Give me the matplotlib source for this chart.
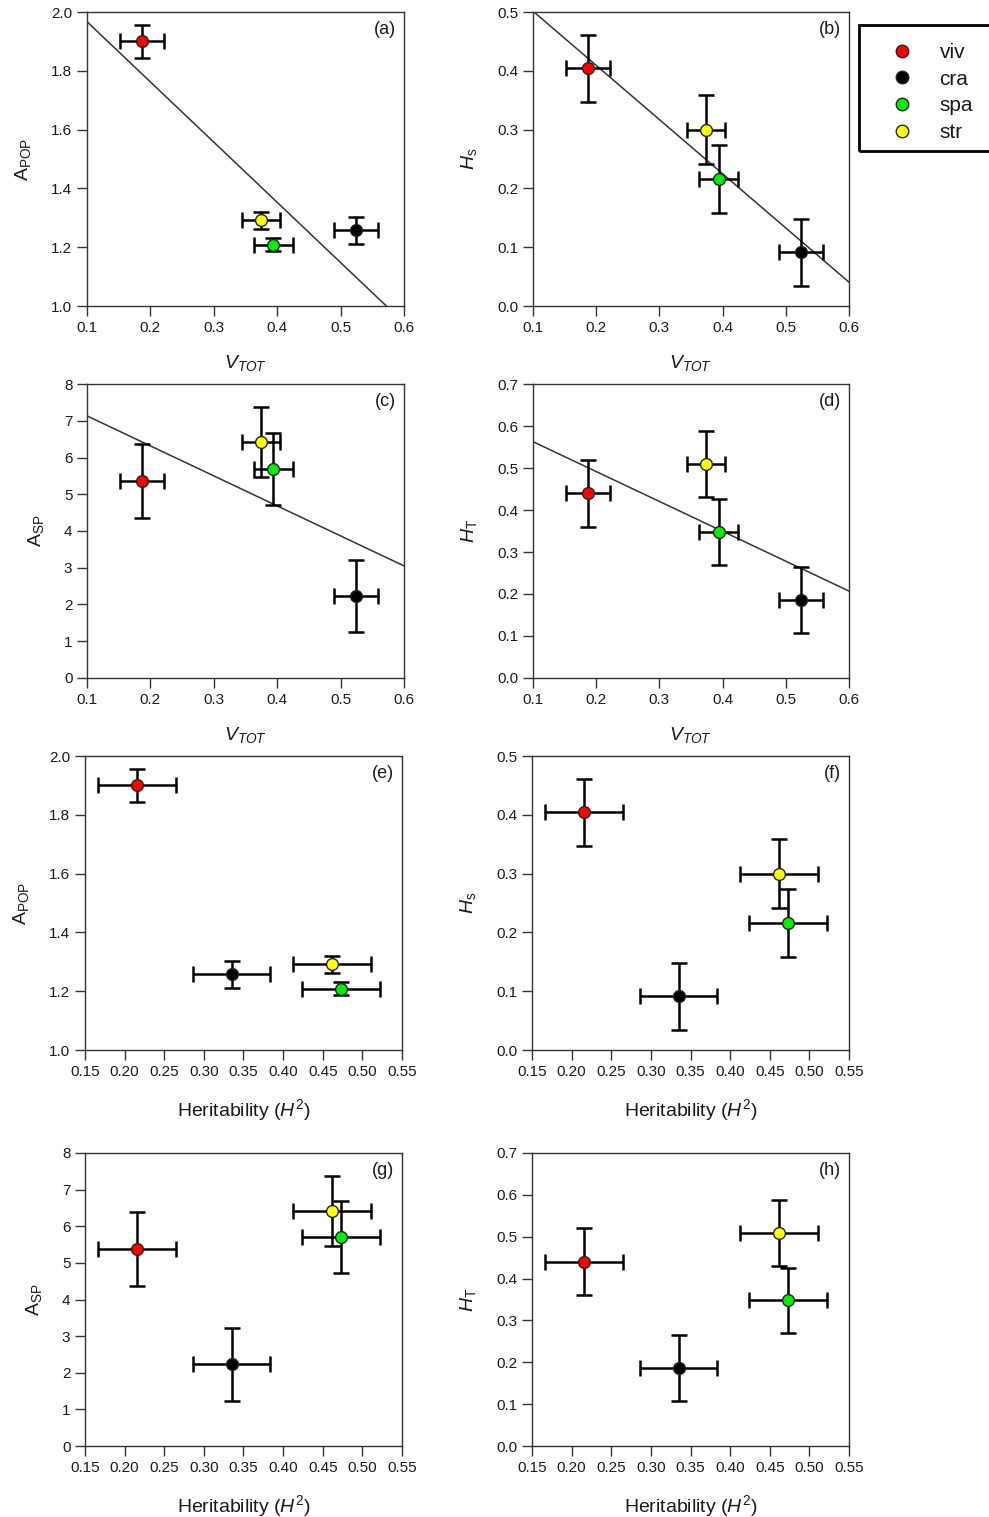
import numpy as np
import matplotlib
matplotlib.use("Agg")
import matplotlib.pyplot as plt
from matplotlib.lines import Line2D
from matplotlib.patches import Rectangle

plt.rcParams["font.family"] = ["Liberation Sans", "DejaVu Sans"]
plt.rcParams["mathtext.fontset"] = "custom"
plt.rcParams["mathtext.rm"] = "Liberation Sans"
plt.rcParams["mathtext.it"] = "Liberation Sans:italic"
plt.rcParams["mathtext.bf"] = "Liberation Sans:bold"

# species and colours
species = ["viv", "cra", "spa", "str"]
colors = ["#ff0000", "#000000", "#00ee00", "#ffff00"]

# x variables
v_tot = [0.187, 0.524, 0.394, 0.374]
v_tot_err = [0.035, 0.035, 0.031, 0.030]
herit = [0.216, 0.335, 0.473, 0.462]
herit_err = [0.049, 0.049, 0.049, 0.049]

# y variables
a_pop = [1.900, 1.258, 1.209, 1.291]
a_pop_err = [0.055, 0.046, 0.022, 0.029]
h_s = [0.404, 0.091, 0.216, 0.300]
h_s_err = [0.057, 0.057, 0.057, 0.058]
a_sp = [5.37, 2.23, 5.70, 6.42]
a_sp_err = [1.01, 0.99, 0.98, 0.96]
h_t = [0.440, 0.186, 0.348, 0.509]
h_t_err = [0.080, 0.079, 0.078, 0.079]

W, H = 989, 1517
fig = plt.figure(figsize=(W / 100, H / 100), dpi=100)

TXT = "#1a1a1a"


def make_ax(x0, x1, ytop, ybot):
    return fig.add_axes([x0 / W, 1 - ybot / H, (x1 - x0) / W, (ybot - ytop) / H])


def panel(ax, x, xerr, y, yerr, xlim, xticks, xfmt, ylim, yticks, yfmt,
          xlabel, ylabel, tag, fit=False):
    for i in range(len(species)):
        ax.errorbar(x[i], y[i], xerr=xerr[i], yerr=yerr[i], fmt="none",
                    ecolor="black", elinewidth=1.8, capsize=5.8, capthick=1.8,
                    zorder=3)
    for i in range(len(species)):
        ax.plot(x[i], y[i], "o", ms=8.5, mfc=colors[i], mec="#222222",
                mew=1.0, zorder=4)
    if fit:
        # least squares line through the four species
        k, m = np.polyfit(x, y, 1)
        xs = np.array(xlim)
        ax.plot(xs, k * xs + m, color="#333333", lw=1.1, zorder=2)
    ax.set_xlim(xlim)
    ax.set_ylim(ylim)
    ax.set_xticks(xticks)
    ax.set_xticklabels([xfmt % t for t in xticks])
    ax.set_yticks(yticks)
    ax.set_yticklabels([yfmt % t for t in yticks])
    ax.tick_params(direction="out", length=7, width=1, colors="#333333",
                   labelcolor=TXT, labelsize=11)
    for s in ax.spines.values():
        s.set_color("#333333")
        s.set_linewidth(1.0)
    ax.set_xlabel(xlabel, fontsize=14, color=TXT, labelpad=13)
    ax.set_ylabel(ylabel, fontsize=14, color=TXT, labelpad=13)
    ax.text(0.975, 0.97, tag, transform=ax.transAxes, ha="right", va="top",
            fontsize=13, color=TXT)


vx = [0.1, 0.2, 0.3, 0.4, 0.5, 0.6]
hx = [0.15, 0.20, 0.25, 0.30, 0.35, 0.40, 0.45, 0.50, 0.55]
vlab = r"$V_{TOT}$"
hlab = r"Heritability ($H^2$)"
lab_apop = r"$\mathrm{A}_{\mathrm{POP}}$"
lab_hs = r"$H_{\mathrm{s}}$"
lab_asp = r"$\mathrm{A}_{\mathrm{SP}}$"
lab_ht = r"$H_{\mathrm{T}}$"

ax = make_ax(87, 404, 12, 306)
panel(ax, v_tot, v_tot_err, a_pop, a_pop_err, (0.1, 0.6), vx, "%.1f",
      (1.0, 2.0), [1.0, 1.2, 1.4, 1.6, 1.8, 2.0], "%.1f", vlab, lab_apop, "(a)", True)
ax = make_ax(533, 849, 12, 306)
panel(ax, v_tot, v_tot_err, h_s, h_s_err, (0.1, 0.6), vx, "%.1f",
      (0.0, 0.5), [0.0, 0.1, 0.2, 0.3, 0.4, 0.5], "%.1f", vlab, lab_hs, "(b)", True)
ax = make_ax(87, 404, 384, 678)
panel(ax, v_tot, v_tot_err, a_sp, a_sp_err, (0.1, 0.6), vx, "%.1f",
      (0, 8), list(range(9)), "%d", vlab, lab_asp, "(c)", True)
ax = make_ax(533, 849, 384, 678)
panel(ax, v_tot, v_tot_err, h_t, h_t_err, (0.1, 0.6), vx, "%.1f",
      (0.0, 0.7), [0.0, 0.1, 0.2, 0.3, 0.4, 0.5, 0.6, 0.7], "%.1f", vlab, lab_ht, "(d)", True)
ax = make_ax(85, 402, 756, 1050)
panel(ax, herit, herit_err, a_pop, a_pop_err, (0.15, 0.55), hx, "%.2f",
      (1.0, 2.0), [1.0, 1.2, 1.4, 1.6, 1.8, 2.0], "%.1f", hlab, lab_apop, "(e)")
ax = make_ax(532, 849, 756, 1050)
panel(ax, herit, herit_err, h_s, h_s_err, (0.15, 0.55), hx, "%.2f",
      (0.0, 0.5), [0.0, 0.1, 0.2, 0.3, 0.4, 0.5], "%.1f", hlab, lab_hs, "(f)")
ax = make_ax(85, 402, 1153, 1446)
panel(ax, herit, herit_err, a_sp, a_sp_err, (0.15, 0.55), hx, "%.2f",
      (0, 8), list(range(9)), "%d", hlab, lab_asp, "(g)")
ax = make_ax(532, 849, 1153, 1446)
panel(ax, herit, herit_err, h_t, h_t_err, (0.15, 0.55), hx, "%.2f",
      (0.0, 0.7), [0.0, 0.1, 0.2, 0.3, 0.4, 0.5, 0.6, 0.7], "%.1f", hlab, lab_ht, "(h)")

# legend box runs off the right edge like the original
fig.patches.append(Rectangle((859 / W, 1 - 151 / H), 140 / W, 126 / H,
                             transform=fig.transFigure, fill=False,
                             edgecolor="black", linewidth=2.0))
handles = [Line2D([], [], ls="none", marker="o", ms=9, mfc=c, mec="#222222", mew=1.0)
           for c in colors]
leg = fig.legend(handles, species, loc="upper left",
                 bbox_to_anchor=(875 / W, 1 - 43 / H), fontsize=15,
                 frameon=False, borderpad=0.0,
                 handlelength=2.6, handletextpad=0.5, labelspacing=0.37,
                 borderaxespad=0)
for t in leg.get_texts():
    t.set_color(TXT)

fig.savefig("out.png", dpi=100)
